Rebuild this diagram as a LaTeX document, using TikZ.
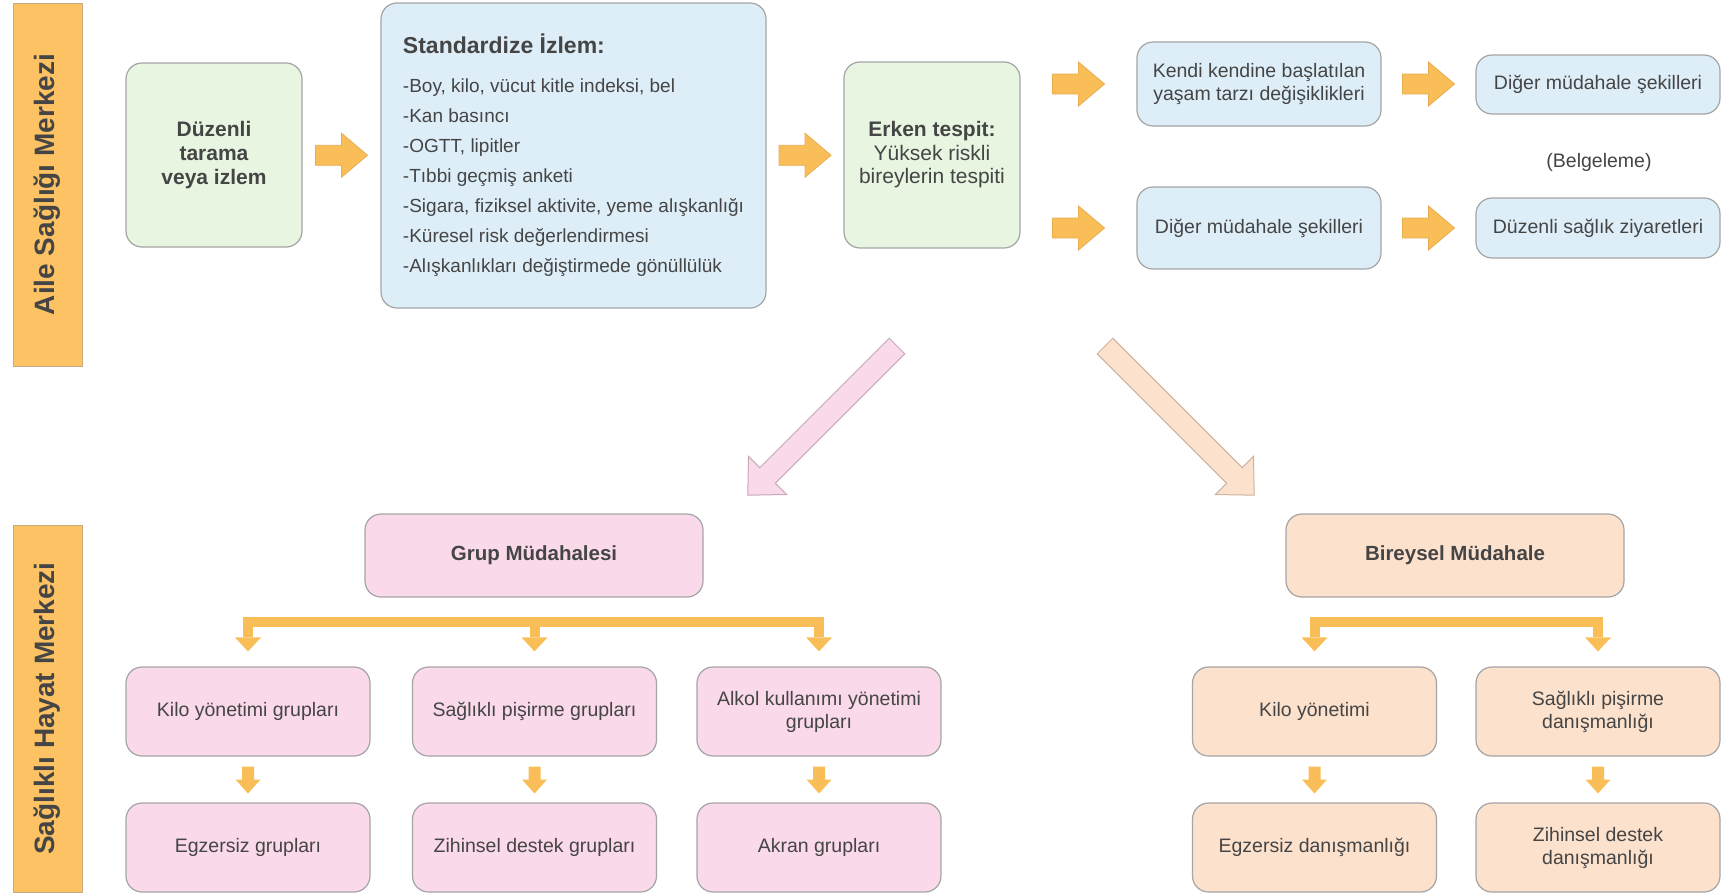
\documentclass[tikz,border=0pt]{standalone}
\usepackage{fontspec}
\setmainfont{Liberation Sans}
\usetikzlibrary{calc}
\definecolor{txt}{HTML}{454545}
\definecolor{lbl}{HTML}{FCC264}
\definecolor{lblb}{HTML}{C8AA80}
\definecolor{arr}{HTML}{F9BE58}
\definecolor{arrb}{HTML}{E9AD50}
\definecolor{gfill}{HTML}{E7F5E1}
\definecolor{bfill}{HTML}{DDEEF8}
\definecolor{pfill}{HTML}{F9D9EA}
\definecolor{ofill}{HTML}{FCE1CD}
\definecolor{bord}{HTML}{A5A5A5}
\definecolor{pbord}{HTML}{C9AAB9}
\definecolor{obord}{HTML}{CDB3A2}
\tikzset{
  wh/.style 2 args={minimum width=#1pt, minimum height=#2pt},
  box/.style={draw=bord, line width=1.2pt, rounded corners=16pt, inner sep=0pt, text=txt, align=center,
    font=\fontsize{19.5}{23}\selectfont},
  gbox/.style={box, fill=gfill},
  bbox/.style={box, fill=bfill},
  pbox/.style={box, fill=pfill},
  obox/.style={box, fill=ofill},
  lblbox/.style={draw=lblb, line width=0.8pt, fill=lbl, rotate=90, text=txt, inner sep=0pt,
    font=\fontsize{28}{32}\selectfont\bfseries},
  arrstyle/.style={fill=arr, draw=arrb, line width=0.8pt, line join=miter},
  bar/.style={draw=arr, line width=10pt},
  rarr/.pic={\path[arrstyle] (-26,-10) -- (0,-10) -- (0,-22) -- (26,0) -- (0,22) -- (0,10) -- (-26,10) -- cycle;},
  darr/.pic={\path[line width=1pt, pic actions] (0,-11) -- (183,-11) -- (183,-27) -- (211,0) -- (183,27) -- (183,11) -- (0,11) -- cycle;},
  dhead/.pic={\fill[arr] (0,0) -- (-13,-14) -- (13,-14) -- cycle;},
  sdarr/.pic={\fill[arr] (-6,-13) -- (6,-13) -- (6,0) -- (12.5,0) -- (0,14) -- (-12.5,0) -- (-6,0) -- cycle;},
}
\begin{document}
\begin{tikzpicture}[x=1pt,y=-1pt]
\useasboundingbox (0,0) rectangle (1723,894);
\fill[white] (0,0) rectangle (1723,894);

% side labels
\node[lblbox, wh={363}{69}] (lab1) at (47.5,184.5) {Aile Sağlığı Merkezi};
\node[lblbox, wh={367}{69}] (lab2) at (47.5,708.5) {Sağlıklı Hayat Merkezi};

% top row
\node[gbox, wh={176}{184}, font=\fontsize{21}{24}\selectfont\bfseries] (g1) at (214,155) {Düzenli\\tarama\\veya izlem};
\node[bbox, wh={385}{305}, align=left, font=\fontsize{19}{30}\selectfont] (std) at (573.5,155.5)
  {{\fontsize{23}{28}\selectfont\bfseries Standardize İzlem:}\\[9pt]
   -Boy, kilo, vücut kitle indeksi, bel\\
   -Kan basıncı\\
   -OGTT, lipitler\\
   -Tıbbi geçmiş anketi\\
   -Sigara, fiziksel aktivite, yeme alışkanlığı\\
   -Küresel risk değerlendirmesi\\
   -Alışkanlıkları değiştirmede gönüllülük};
\node[gbox, wh={176}{186}, font=\fontsize{21}{23.5}\selectfont] (g2) at (932,155) {\textbf{Erken tespit:}\\Yüksek riskli\\bireylerin tespiti};

\node[bbox, wh={244}{84}] (k1) at (1259,84) {Kendi kendine başlatılan\\yaşam tarzı değişiklikleri};
\node[bbox, wh={244}{82}] (k2) at (1259,228) {Diğer müdahale şekilleri};
\node[bbox, wh={244}{59}] (r1) at (1598,84.5) {Diğer müdahale şekilleri};
\node[bbox, wh={244}{60}] (r2) at (1598,228) {Düzenli sağlık ziyaretleri};
\node[text=txt, font=\fontsize{19.5}{23}\selectfont] (belg) at (1599,162) {(Belgeleme)};

% block arrows
\coordinate (m1) at ($(g1.east)!0.5!(std.west)$);
\coordinate (m2) at ($(std.east)!0.5!(g2.west)$);
\coordinate (m3) at ($(g2.east)!0.5!(k1.west)$);
\coordinate (m4) at ($(k1.east)!0.5!(r1.west)$);
\pic at (m1) {rarr};
\pic at (m2) {rarr};
\pic at (m3 |- k1) {rarr};
\pic at (m3 |- k2) {rarr};
\pic at (m4 |- k1) {rarr};
\pic at (m4 |- k2) {rarr};

% diagonal arrows
\coordinate (pt1) at (897,346);
\coordinate (pt2) at (1105,346);
\pic[rotate=225, draw=pbord, fill=pfill] at (pt1) {darr};
\pic[rotate=-45, draw=obord, fill=ofill] at (pt2) {darr};

% group intervention
\node[pbox, wh={338}{83}, font=\fontsize{20.5}{24}\selectfont\bfseries] (grup) at (534,555.5) {Grup Müdahalesi};
\node[pbox, wh={244}{89}] (a1) at (248,711.5) {Kilo yönetimi grupları};
\node[pbox, wh={244}{89}] (a2) at (534.5,711.5) {Sağlıklı pişirme grupları};
\node[pbox, wh={244}{89}] (a3) at (819,711.5) {Alkol kullanımı yönetimi\\grupları};
\node[pbox, wh={244}{89}] (b1) at (248,847.5) {Egzersiz grupları};
\node[pbox, wh={244}{89}] (b2) at (534.5,847.5) {Zihinsel destek grupları};
\node[pbox, wh={244}{89}] (b3) at (819,847.5) {Akran grupları};

% individual intervention
\node[obox, wh={338}{83}, font=\fontsize{20.5}{24}\selectfont\bfseries] (birey) at (1455,555.5) {Bireysel Müdahale};
\node[obox, wh={244}{89}] (d1) at (1314.5,711.5) {Kilo yönetimi};
\node[obox, wh={244}{89}] (d2) at (1598,711.5) {Sağlıklı pişirme\\danışmanlığı};
\node[obox, wh={244}{89}] (e1) at (1314.5,847.5) {Egzersiz danışmanlığı};
\node[obox, wh={244}{89}] (e2) at (1598,847.5) {Zihinsel destek\\danışmanlığı};

% tree connectors
\draw[bar] ($(a1.north)+(0,-29)$) |- ($(a3.north)+(0,-44)$) -- ($(a3.north)+(0,-29)$);
\draw[bar] ($(a2.north)+(0,-44)$) -- ($(a2.north)+(0,-29)$);
\draw[bar] ($(d1.north)+(0,-29)$) |- ($(d2.north)+(0,-44)$) -- ($(d2.north)+(0,-29)$);
\pic at ($(a1.north)+(0,-15)$) {dhead};
\pic at ($(a2.north)+(0,-15)$) {dhead};
\pic at ($(a3.north)+(0,-15)$) {dhead};
\pic at ($(d1.north)+(0,-15)$) {dhead};
\pic at ($(d2.north)+(0,-15)$) {dhead};

\pic at ($(a1.south)!0.5!(b1.north)$) {sdarr};
\pic at ($(a2.south)!0.5!(b2.north)$) {sdarr};
\pic at ($(a3.south)!0.5!(b3.north)$) {sdarr};
\pic at ($(d1.south)!0.5!(e1.north)$) {sdarr};
\pic at ($(d2.south)!0.5!(e2.north)$) {sdarr};
\end{tikzpicture}
\end{document}
